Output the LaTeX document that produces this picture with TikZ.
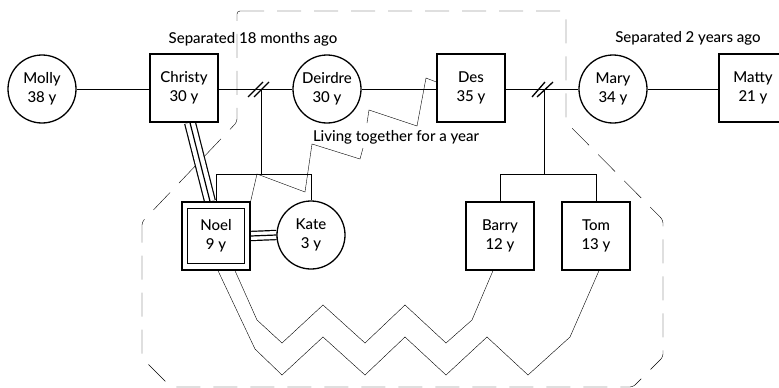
\documentclass[tikz,border=0pt]{standalone}
\usepackage{fontspec}
\setmainfont{Lato}[UprightFont={* Medium}]
\usetikzlibrary{calc}
\pgfdeclarelayer{background}
\pgfsetlayers{background,main}
\begin{document}
\begin{tikzpicture}[x=1pt,y=-1pt,line width=1.3pt,
  every node/.style={font=\fontsize{15}{19}\selectfont},
  person/.style={draw,fill=white,minimum size=68pt,inner sep=0pt,align=center},
  male/.style={person,rectangle},
  female/.style={person,circle},
  note/.style={inner sep=0pt},
  triplewide/.style={line width=1.2pt,preaction={draw,line width=12pt},preaction={draw,white,line width=9.6pt}},
  triplenarrow/.style={line width=1.2pt,preaction={draw,line width=10.4pt},preaction={draw,white,line width=8pt}},
  household/.style={dash pattern=on 24pt off 13pt,rounded corners=3pt},
  sepmark/.style={line width=1.3pt}
]
\useasboundingbox (0,0) rectangle (779,388);

% people
\node[female] (molly)   at (42,89)  {Molly\\38 y};
\node[male]   (christy) at (184,88) {Christy\\30 y};
\node[female] (deirdre) at (327,89) {Deirdre\\30 y};
\node[male]   (des)     at (471,88) {Des\\35 y};
\node[female] (mary)    at (613,89) {Mary\\34 y};
\node[male]   (matty)   at (753,88) {Matty\\21 y};
\node[male]   (noel)    at (216,236) {Noel\\9 y};
\node[female] (kate)    at (311,235) {Kate\\3 y};
\node[male]   (barry)   at (500,236) {Barry\\12 y};
\node[male]   (tom)     at (596,236) {Tom\\13 y};
\draw ($(noel.north west)+(6,7)$) rectangle ($(noel.south east)+(-6,-7)$);

% labels
\node[note] (sep18) at (253,39) {Separated 18 months ago};
\node[note] (sep2)  at (688,38) {Separated 2 years ago};
\node[note,anchor=base] (living) at (396,141) {Living together for a year};

% helper coordinates
\coordinate (kidsA) at (261,89);
\coordinate (barA)  at (261,174);
\coordinate (kidsB) at (544,89);
\coordinate (barB)  at (544,174);

\begin{pgfonlayer}{background}
% household boundary
\draw[household] (237,11) -- (566,11) -- (566,122) -- (663,220) -- (663,357)
  -- (633,387) -- (171,387) -- (142,358) -- (142,222) -- (237,122) -- cycle;

% couples
\draw (molly.east) -- (molly.east -| christy.west);
\draw (christy.east |- kidsA) -- (deirdre.west);
\draw (deirdre.east) -- (deirdre.east -| des.west);
\draw (des.east |- kidsB) -- (mary.west);
\draw (mary.east) -- (mary.east -| matty.west);

% separation marks
\draw[sepmark] ($(kidsA)+(-13,8)$) -- ($(kidsA)+(2,-7)$);
\draw[sepmark] ($(kidsA)+(-7,8)$) -- ($(kidsA)+(8,-7)$);
\draw[sepmark] ($(kidsB)+(-12,8)$) -- ($(kidsB)+(1,-7)$);
\draw[sepmark] ($(kidsB)+(-7,8)$) -- ($(kidsB)+(9,-7)$);

% children lines
\draw (kidsA) -- (barA);
\draw (noel.north) -- (noel.north |- barA) -- (kate.north |- barA) -- (kate.north);
\draw (kidsB) -- (barB);
\draw (barry.north) -- (barry.north |- barB) -- (tom.north |- barB) -- (tom.north);

% fused relationships
\draw[triplewide] ($(christy.south)+(6,0)$) -- ($(noel.north)+(-6,0)$);
\draw[triplenarrow] (noel.east) -- (kate.west);

% living together (zigzag)
\draw (noel.north east) -- (257,174) -- (305,192) -- (312,144) -- (360,159) -- (363,148)
      (367,123) -- (369,110) -- (417,126) -- (426,78) -- ($(des.west)+(0,-6)$);

% conflict zigzags
\draw ($(noel.south)+(2,0)$) -- (255,349) -- (282,375) -- (323,337) -- (365,375) -- (405,337)
  -- (446,375) -- (487,337) -- (528,375) -- (570,337) -- ($(tom.south)+(3,0)$);
\draw ($(noel.south)+(19,0)$) -- (257,320) -- (282,343) -- (323,305) -- (365,343) -- (405,305)
  -- (446,343) -- (472,320) -- ($(barry.south)+(-7,0)$);
\end{pgfonlayer}
\end{tikzpicture}
\end{document}
